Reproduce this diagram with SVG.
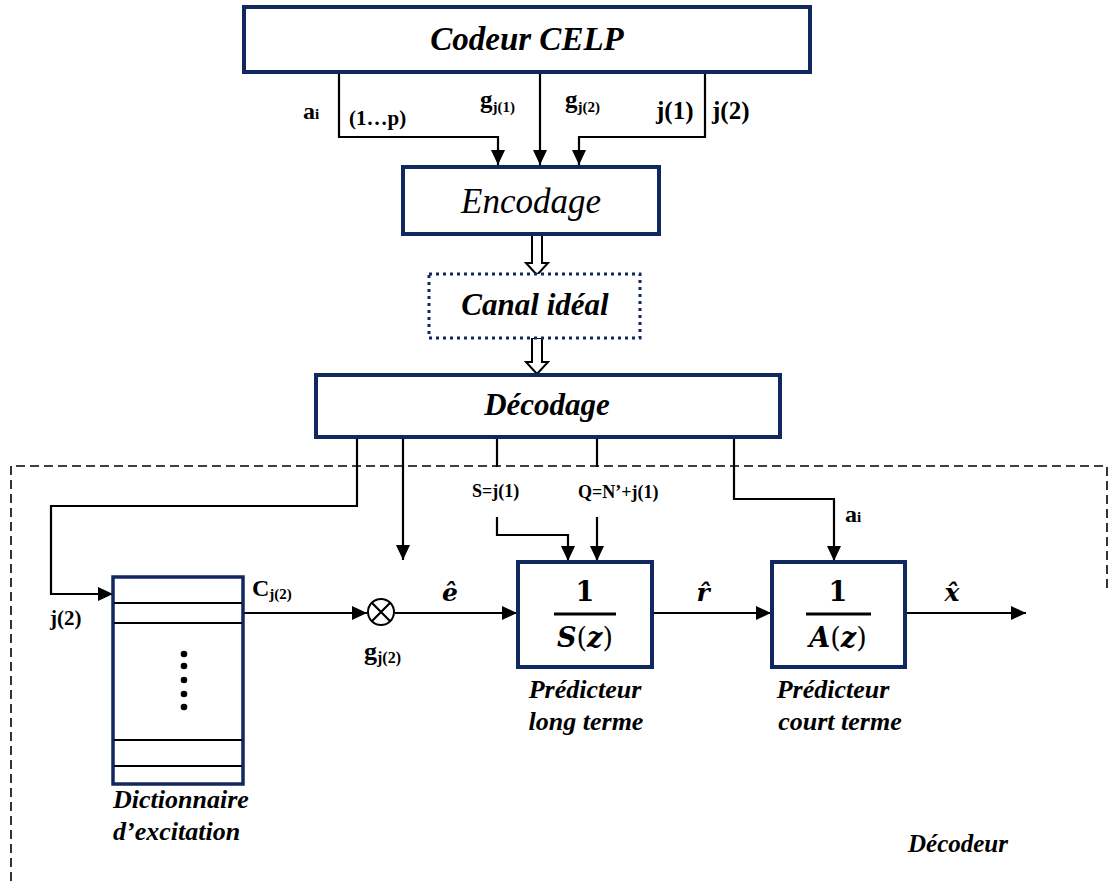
<svg xmlns="http://www.w3.org/2000/svg" width="1109" height="881" viewBox="0 0 1109 881">
  <defs>
    <marker id="arrow" markerUnits="userSpaceOnUse" markerWidth="15" markerHeight="14" refX="15" refY="7" orient="auto">
      <path d="M0,0 L15,7 L0,14 z" fill="#000"/>
    </marker>
    <style>
      .box { fill: #fff; stroke: #10275f; stroke-width: 4; }
      .dict { fill: #fff; stroke: #10275f; stroke-width: 3.5; }
      .dotted { fill: #fff; stroke: #10275f; stroke-width: 3; stroke-dasharray: 3 4; }
      .wire { fill: none; stroke: #000; stroke-width: 2.2; }
      .arr { fill: none; stroke: #000; stroke-width: 2.2; marker-end: url(#arrow); }
      .hollow { fill: #fff; stroke: #000; stroke-width: 2; }
      .frame { fill: none; stroke: #000; stroke-width: 1.6; stroke-dasharray: 9 5; }
      .title { font-family: "Liberation Serif", serif; font-weight: bold; font-style: italic; fill: #000; }
      .lbl { font-family: "Liberation Serif", serif; font-weight: bold; fill: #000; }
      .math { font-family: "DejaVu Serif", serif; font-weight: bold; fill: #000; }
    </style>
  </defs>

  <!-- decoder frame -->
  <g id="decodeur-frame">
    <path class="frame" d="M11,881 L11,466 L1107,466 L1107,590"/>
    <text class="title" x="958" y="852" font-size="25" text-anchor="middle">Décodeur</text>
  </g>

  <!-- connectors -->
  <g id="connectors">
    <!-- coder outputs to encoding -->
    <path class="arr" d="M339,72 L339,137 L498,137 L498,165"/>
    <path class="arr" d="M540,72 L540,165"/>
    <path class="arr" d="M705,72 L705,137 L579,137 L579,165"/>
    <!-- hollow transfer arrows -->
    <path class="hollow" d="M532,234 L542,234 L542,263 L548,263 L537,275 L526,263 L532,263 z"/>
    <path class="hollow" d="M532,338 L542,338 L542,362 L548,362 L537,374 L526,362 L532,362 z"/>
    <!-- decoding outputs -->
    <path class="arr" d="M357,437 L357,506 L51,506 L51,594 L113,594"/>
    <path class="arr" d="M403,437 L403,560"/>
    <path class="wire" d="M497,437 L497,467"/>
    <path class="arr" d="M497,517 L497,535 L568,535 L568,561"/>
    <path class="wire" d="M597,437 L597,467"/>
    <path class="arr" d="M597,517 L597,561"/>
    <path class="arr" d="M734,437 L734,499 L834,499 L834,561"/>
    <!-- signal path -->
    <path class="arr" d="M244,613 L367,613"/>
    <path class="arr" d="M395,613 L517,613"/>
    <path class="arr" d="M652,613 L771,613"/>
    <path class="arr" d="M905,613 L1026,613"/>
  </g>

  <!-- connector labels -->
  <g id="labels">
    <text class="lbl" x="303" y="119" font-size="24">a<tspan font-size="15">i</tspan></text>
    <text class="lbl" x="349" y="125" font-size="21">(1…p)</text>
    <text class="lbl" x="480" y="108" font-size="25">g<tspan font-size="15" dy="4">j(1)</tspan></text>
    <text class="lbl" x="565" y="108" font-size="25">g<tspan font-size="15" dy="4">j(2)</tspan></text>
    <text class="lbl" x="656" y="119" font-size="25">j(1)</text>
    <text class="lbl" x="712" y="119" font-size="25">j(2)</text>

    <text class="lbl" x="472" y="497" font-size="18">S=j(1)</text>
    <text class="lbl" x="578" y="498" font-size="18">Q=N’+j(1)</text>
    <text class="lbl" x="845" y="522" font-size="24">a<tspan font-size="15">i</tspan></text>
    <text class="lbl" x="50" y="625" font-size="21">j(2)</text>
    <text class="lbl" x="252" y="596" font-size="24">C<tspan font-size="15" dy="3">j(2)</tspan></text>
    <text class="lbl" x="364" y="660" font-size="26">g<tspan font-size="16" dy="3">j(2)</tspan></text>

    <text class="math" x="450" y="601" font-size="25" font-style="italic" text-anchor="middle">ê</text>
    <text class="math" x="703" y="601" font-size="25" font-style="italic" text-anchor="middle">r̂</text>
    <text class="math" x="952" y="601" font-size="25" font-style="italic" text-anchor="middle">x̂</text>
  </g>

  <!-- coder -->
  <g id="codeur">
    <rect class="box" x="244" y="7" width="566" height="65"/>
    <text class="title" x="527" y="50" font-size="33" text-anchor="middle">Codeur CELP</text>
  </g>

  <!-- encoding -->
  <g id="encodage">
    <rect class="box" x="403" y="167" width="256" height="67"/>
    <text x="531" y="213" font-size="35" font-style="italic" font-family="Liberation Serif, serif" text-anchor="middle">Encodage</text>
  </g>

  <!-- ideal channel -->
  <g id="canal">
    <rect class="dotted" x="429" y="274" width="211" height="64"/>
    <text class="title" x="535" y="315" font-size="31" text-anchor="middle">Canal idéal</text>
  </g>

  <!-- decoding -->
  <g id="decodage">
    <rect class="box" x="316" y="375" width="464" height="62"/>
    <text class="title" x="547" y="415" font-size="31" text-anchor="middle">Décodage</text>
  </g>

  <!-- excitation codebook -->
  <g id="dictionnaire">
    <rect class="dict" x="113" y="577" width="130" height="207"/>
    <path class="wire" d="M114,603 L242,603 M114,623 L242,623 M114,740 L242,740 M114,766 L242,766"/>
    <g fill="#000">
      <circle cx="184" cy="654" r="3.3"/>
      <circle cx="184" cy="666" r="3.3"/>
      <circle cx="184" cy="680" r="3.3"/>
      <circle cx="184" cy="694" r="3.3"/>
      <circle cx="184" cy="707" r="3.3"/>
    </g>
    <text class="title" x="113" y="808" font-size="26">Dictionnaire</text>
    <text class="title" x="113" y="840" font-size="26">d’excitation</text>
  </g>

  <!-- gain multiplier -->
  <g id="multiplieur">
    <circle cx="381" cy="612" r="13" fill="#fff" stroke="#000" stroke-width="2"/>
    <path class="wire" d="M371.8,602.8 L390.2,621.2 M390.2,602.8 L371.8,621.2"/>
  </g>

  <!-- long-term predictor -->
  <g id="predicteur-long">
    <rect class="box" x="518" y="562" width="134" height="105"/>
    <text class="math" x="585" y="601" font-size="27" text-anchor="middle">1</text>
    <line x1="554" y1="614" x2="616" y2="614" stroke="#000" stroke-width="3"/>
    <text class="math" x="585" y="647" font-size="27" text-anchor="middle"><tspan font-style="italic">S</tspan><tspan font-weight="normal">(</tspan><tspan font-style="italic">z</tspan><tspan font-weight="normal">)</tspan></text>
    <text class="title" x="585" y="698" font-size="26" text-anchor="middle">Prédicteur</text>
    <text class="title" x="586" y="730" font-size="26" text-anchor="middle">long terme</text>
  </g>

  <!-- short-term predictor -->
  <g id="predicteur-court">
    <rect class="box" x="772" y="562" width="133" height="105"/>
    <text class="math" x="838" y="601" font-size="27" text-anchor="middle">1</text>
    <line x1="806" y1="614" x2="871" y2="614" stroke="#000" stroke-width="3"/>
    <text class="math" x="838" y="647" font-size="27" text-anchor="middle"><tspan font-style="italic">A</tspan><tspan font-weight="normal">(</tspan><tspan font-style="italic">z</tspan><tspan font-weight="normal">)</tspan></text>
    <text class="title" x="833" y="698" font-size="26" text-anchor="middle">Prédicteur</text>
    <text class="title" x="840" y="730" font-size="26" text-anchor="middle">court terme</text>
  </g>
</svg>
